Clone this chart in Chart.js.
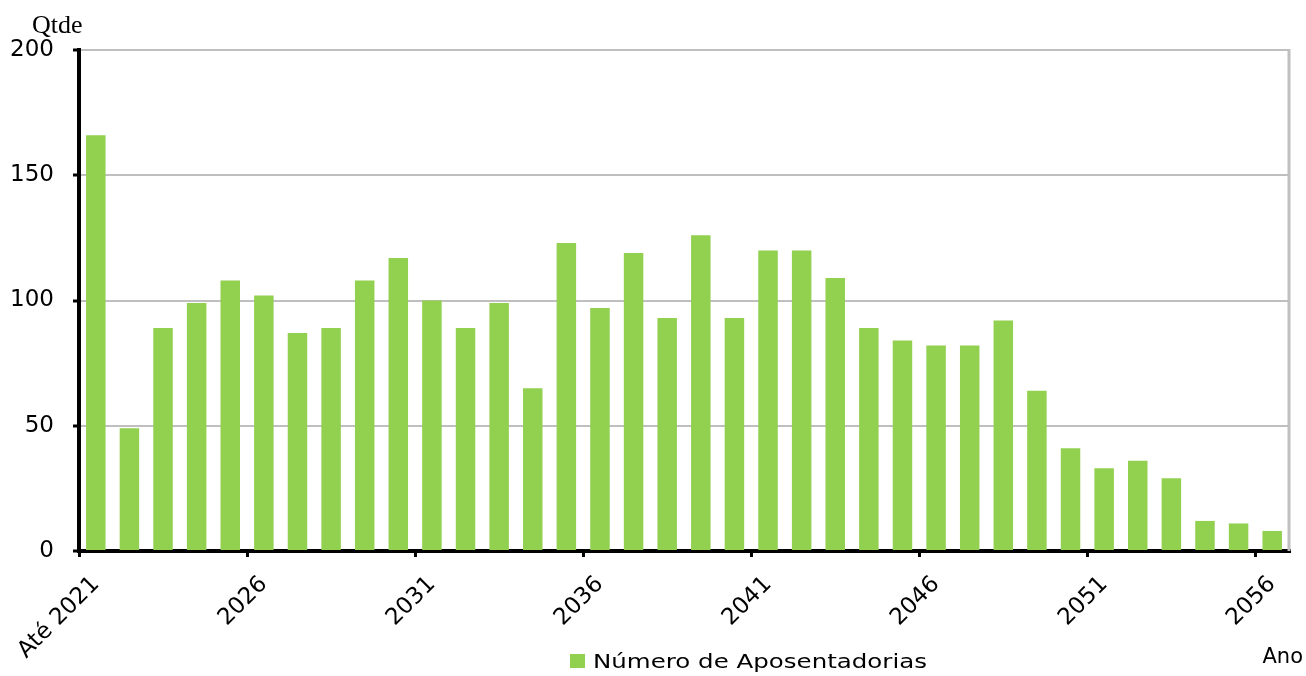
<!DOCTYPE html>
<html>
<head>
<meta charset="utf-8">
<script src="https://cdn.jsdelivr.net/npm/chart.js@4"></script>
<style>
  html, body { margin: 0; padding: 0; background: #fff; }
  canvas { display: block; }
</style>
</head>
<body>
<canvas id="myChart" width="1306" height="676"></canvas>
<script>
// Define the data
var categories = ['Até 2021', '2022', '2023', '2024', '2025', '2026', '2027', '2028', '2029', '2030',
  '2031', '2032', '2033', '2034', '2035', '2036', '2037', '2038', '2039', '2040',
  '2041', '2042', '2043', '2044', '2045', '2046', '2047', '2048', '2049', '2050',
  '2051', '2052', '2053', '2054', '2055', '2056'];
var aposentadorias = [166, 49, 89, 99, 108, 102, 87, 89, 108, 117,
  100, 89, 99, 65, 123, 97, 119, 93, 126, 93,
  120, 120, 109, 89, 84, 82, 82, 92, 64, 41,
  33, 36, 29, 12, 11, 8];
var seriesName = 'Número de Aposentadorias';
var yTicks = [0, 50, 100, 150, 200];
var yTitle = 'Qtde';
var xTitle = 'Ano';
// End defining data

var GREEN = '#92D050';
var GRID = '#BFBFBF';

// extra texts: axis titles, legend, right border of the plot area
var extrasPlugin = {
  id: 'extras',
  afterDraw: function(chart) {
    var ctx = chart.ctx;
    var area = chart.chartArea;
    ctx.save();
    // right border
    ctx.strokeStyle = GRID;
    ctx.lineWidth = 3;
    ctx.beginPath();
    ctx.moveTo(area.right, area.top - 1);
    ctx.lineTo(area.right, area.bottom);
    ctx.stroke();

    ctx.fillStyle = '#000';
    ctx.textBaseline = 'alphabetic';
    ctx.font = '26px "Liberation Serif"';
    ctx.textAlign = 'left';
    ctx.fillText(yTitle, 32, 33);

    ctx.font = '21px "DejaVu Sans"';
    ctx.textAlign = 'right';
    ctx.fillText(xTitle, 1303, 663);

    // legend
    var ds = chart.data.datasets[0];
    ctx.fillStyle = ds.backgroundColor;
    ctx.fillRect(570, 654, 15, 14);
    ctx.fillStyle = '#000';
    ctx.textAlign = 'left';
    ctx.font = '19px "DejaVu Sans"';
    var w = ctx.measureText(ds.label).width;
    ctx.translate(593, 668);
    ctx.scale(334 / w, 1);
    ctx.fillText(ds.label, 0, 0);
    ctx.restore();
  }
};

var ctx = document.getElementById('myChart').getContext('2d');

var options = {
  responsive: false,
  maintainAspectRatio: false,
  animation: false,
  devicePixelRatio: 1,
  layout: { padding: { top: 50, right: 17, left: 0, bottom: 0 } },
  plugins: {
    legend: { display: false },
    tooltip: { enabled: false }
  },
  scales: {
    x: {
      offset: true,
      afterFit: function(scale) { scale.height = 125; },
      border: { display: true, color: '#000', width: 4 },
      grid: {
        offset: true,
        drawOnChartArea: false,
        tickLength: 6,
        lineWidth: 3,
        color: function(c) { return c.index % 5 === 0 ? '#000' : 'rgba(0,0,0,0)'; },
        tickColor: function(c) { return c.index % 5 === 0 ? '#000' : 'rgba(0,0,0,0)'; }
      },
      ticks: {
        autoSkip: false,
        maxRotation: 45,
        minRotation: 45,
        padding: 14,
        color: '#000',
        font: { family: '"DejaVu Sans"', size: 23 },
        callback: function(value, index) {
          return index % 5 === 0 ? categories[index] : '';
        }
      }
    },
    y: {
      min: yTicks[0],
      max: yTicks[yTicks.length - 1],
      afterFit: function(scale) { scale.width = 79; },
      afterBuildTicks: function(scale) {
        scale.ticks = yTicks.map(function(v) { return { value: v }; });
      },
      border: { display: true, color: '#000', width: 4 },
      grid: {
        color: GRID,
        lineWidth: 2,
        tickLength: 6,
        tickColor: '#000',
        tickWidth: 3
      },
      ticks: {
        padding: 19,
        color: '#000',
        font: { family: '"DejaVu Sans"', size: 23 }
      }
    }
  }
};

var myChart = new Chart(ctx, {
  type: 'bar',
  data: {
    labels: categories,
    datasets: [{
      label: seriesName,
      data: aposentadorias,
      backgroundColor: GREEN,
      borderWidth: 0,
      categoryPercentage: 1.0,
      barPercentage: 0.58
    }]
  },
  options: options,
  plugins: [extrasPlugin]
});
</script>
</body>
</html>
